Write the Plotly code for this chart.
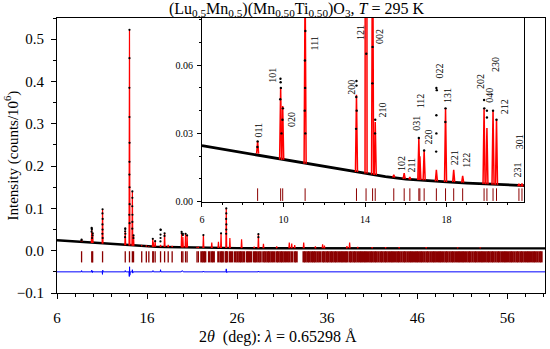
import plotly.graph_objects as go

# ---------------- data ----------------
# observed continuum (background), 2theta in deg, intensity in counts/1e6
bg_x = [6, 7, 8, 9, 10, 11, 12, 13, 14, 15, 16, 17, 18, 19, 20, 21, 22, 24, 26, 30, 35, 40, 45, 50, 55, 60.2]
bg_y = [0.0246, 0.0231, 0.0216, 0.0200, 0.0183, 0.0168, 0.0153, 0.0138, 0.0124, 0.0110, 0.0099, 0.0092,
        0.0087, 0.0082, 0.0077, 0.0071, 0.0066, 0.0062, 0.0060, 0.0058, 0.0057, 0.0057, 0.0056, 0.0056,
        0.0055, 0.0055]

# calculated peaks: position, apex, base
pk_x = [8.73, 9.86, 9.96, 11.06, 13.58, 14.05, 14.37, 14.50,
        15.41, 15.92, 16.20, 16.64, 16.69, 16.90,
        17.50, 17.95, 18.35, 18.79,
        19.84, 19.98, 20.28, 20.45,
        21.55, 21.70,
        22.26, 23.19, 23.93, 24.22, 24.80, 25.20,
        26.50, 27.90, 28.37, 28.93,
        30.40, 31.80, 32.07, 32.40,
        33.40, 34.70, 35.50, 35.70,
        38.20, 38.50, 39.40,
        41.00, 42.50, 44.00, 47.00, 50.50, 53.00]
pk_calc = [0.0265, 0.0500, 0.0420, 0.0980, 0.0470, 0.5220, 0.1400, 0.0350,
           0.0118, 0.0125, 0.0108, 0.0278, 0.0200, 0.0224,
           0.0140, 0.0410, 0.0140, 0.0113,
           0.0407, 0.0324, 0.0403, 0.0363,
           0.0079, 0.0080,
           0.0370, 0.0190, 0.0210, 0.0410, 0.1000, 0.0300,
           0.0270, 0.0095, 0.0390, 0.0160,
           0.0100, 0.0190, 0.0170, 0.0130,
           0.0190, 0.0100, 0.0150, 0.0120,
           0.0110, 0.0190, 0.0090,
           0.0085, 0.0080, 0.0085, 0.0080, 0.0075, 0.0075]
pk_base = [0.0211, 0.0185, 0.0184, 0.0167, 0.0130, 0.0124, 0.0119, 0.0117,
           0.0106, 0.0100, 0.0098, 0.0095, 0.0095, 0.0094,
           0.0090, 0.0087, 0.0086, 0.0084,
           0.0078, 0.0077, 0.0075, 0.0074,
           0.0068, 0.0067,
           0.0065, 0.0064, 0.0062, 0.0062, 0.0061, 0.0061,
           0.0060, 0.0059, 0.0059, 0.0059,
           0.0058, 0.0058, 0.0058, 0.0058,
           0.0057, 0.0057, 0.0057, 0.0057,
           0.0057, 0.0057, 0.0057,
           0.0057, 0.0057, 0.0056, 0.0056, 0.0056, 0.0056]

# observed points on the peaks
obs_x = [8.73, 8.72, 9.85, 9.86, 9.87, 9.84, 9.97, 9.95, 9.90,
         11.06, 11.05, 11.07, 11.05, 11.06, 11.04, 11.07,
         13.58, 13.58, 13.57, 13.59, 13.56,
         14.05, 14.05, 14.04, 14.05, 14.06, 14.05, 14.04, 14.06, 14.07, 14.03, 14.06,
         14.37, 14.37, 14.36, 14.38, 14.37, 14.36,
         14.50, 14.49, 16.64, 16.90,
         17.50, 17.52, 17.50, 17.50, 17.49, 17.95, 17.94,
         19.84, 19.85, 19.98, 19.98, 20.28, 20.45,
         22.26, 24.22, 24.80, 24.80, 24.79, 24.81, 24.80, 24.79, 28.37, 28.37]
obs_y = [0.0265, 0.0240, 0.0540, 0.0525, 0.0500, 0.0450, 0.0410, 0.0360, 0.0300,
         0.098, 0.088, 0.075, 0.062, 0.050, 0.040, 0.030,
         0.053, 0.051, 0.046, 0.040, 0.032,
         0.522, 0.455, 0.385, 0.316, 0.255, 0.210, 0.180, 0.150, 0.110, 0.085, 0.065,
         0.140, 0.125, 0.105, 0.085, 0.068, 0.052,
         0.036, 0.030, 0.028, 0.0225,
         0.050, 0.049, 0.038, 0.030, 0.022, 0.041, 0.035,
         0.0447, 0.041, 0.040, 0.037, 0.040, 0.036,
         0.037, 0.041, 0.100, 0.088, 0.075, 0.062, 0.050, 0.040, 0.039, 0.032]

# difference curve (obs - calc, offset)
diff_x = [6.0, 8.70, 8.73, 8.76, 9.82, 9.86, 9.92, 9.97, 10.02, 11.02, 11.05, 11.08, 11.12,
          13.54, 13.58, 13.62, 14.00, 14.03, 14.06, 14.09, 14.13, 14.34, 14.37, 14.41, 14.45,
          16.60, 16.66, 16.72, 17.47, 17.50, 17.54, 19.80, 19.88, 19.96, 20.02,
          22.22, 22.26, 22.30, 24.76, 24.80, 24.85, 24.90, 28.34, 28.37, 28.41, 60.2]
diff_y = [-0.050, -0.050, -0.047, -0.050, -0.050, -0.046, -0.052, -0.048, -0.050, -0.050, -0.056, -0.046, -0.050,
          -0.050, -0.047, -0.050, -0.050, -0.061, -0.038, -0.058, -0.050, -0.050, -0.045, -0.053, -0.050,
          -0.050, -0.047, -0.050, -0.050, -0.045, -0.050, -0.050, -0.047, -0.048, -0.050,
          -0.050, -0.048, -0.050, -0.050, -0.043, -0.052, -0.050, -0.050, -0.048, -0.050, -0.050]

# Bragg reflection positions
bragg_low = [8.73, 9.86, 9.96, 11.06, 13.58, 14.05, 14.37, 14.50, 15.41, 15.92, 16.20, 16.64, 16.69,
             16.90, 17.50, 17.95, 18.35, 18.79, 19.84, 19.98, 20.28, 20.45, 21.55, 21.70]
bragg_high = [22.05, 22.26, 22.45, 22.90, 23.19, 23.40, 23.93, 24.22, 24.40, 24.75, 24.85, 25.20, 25.45,
              25.80, 26.05, 26.30, 26.50, 26.75, 27.10, 27.30, 27.55, 27.90, 28.10, 28.37, 28.60, 28.93,
              29.15, 29.40, 29.60, 29.85, 30.10, 30.40, 30.60, 30.85, 31.05, 31.30, 31.55, 31.80, 32.07,
              32.40, 32.60, 33.40, 33.60, 33.85, 34.05, 34.30, 34.50, 34.70, 34.95, 35.20, 35.50, 35.70,
              35.95, 36.15, 36.40, 36.60, 36.85, 37.05, 37.30, 37.55, 37.75, 38.00, 38.20, 38.50, 38.70,
              38.95, 39.15, 39.40, 39.65, 39.85, 40.10, 40.30, 40.55, 40.80, 41.00, 41.25, 41.45, 41.70,
              41.95, 42.15, 42.40, 42.60, 42.85, 43.10, 43.30, 43.55, 43.80, 44.00, 44.25, 44.50, 44.70,
              44.95, 45.20, 45.40, 45.65, 45.90, 46.10, 46.35, 46.55, 46.80, 47.05, 47.25, 47.50, 47.75,
              47.95, 48.20, 48.45, 48.65, 48.90, 49.15, 49.35, 49.60, 49.85, 50.05, 50.30, 50.55, 50.75,
              51.00, 51.20, 51.45, 51.70, 51.90, 52.15, 52.40, 52.60, 52.85, 53.10, 53.30, 53.55, 53.80,
              54.00, 54.25, 54.45, 54.70, 54.95, 55.15, 55.40, 55.65, 55.85, 56.10, 56.35, 56.55, 56.80,
              57.05, 57.25, 57.50, 57.70, 57.95, 58.20, 58.40, 58.65, 58.90, 59.10, 59.35, 59.60, 59.80]
bragg_main_y = -0.0145
bragg_inset_y = 0.0031

# inset hkl labels
hkl = ['011', '101', '020', '111', '200', '121', '002', '210', '102', '211', '031', '112',
       '220', '022', '131', '221', '122', '202', '040', '230', '212', '231', '301']
hkl_x = [8.73, 9.48, 10.36, 11.54, 13.35, 13.75, 14.73, 14.86, 15.79, 16.28, 16.55, 16.71,
         17.09, 17.63, 18.07, 18.40, 18.94, 19.66, 20.12, 20.41, 20.85, 21.48, 21.59]
hkl_y = [0.0315, 0.0557, 0.0363, 0.0695, 0.0504, 0.0745, 0.0728, 0.0403, 0.0168, 0.0161, 0.0343, 0.0442,
         0.0282, 0.0572, 0.0469, 0.0194, 0.0183, 0.0528, 0.0469, 0.0603, 0.0418, 0.0139, 0.0264]

x_ticks_main = [6, 16, 26, 36, 46, 56]
y_ticks_main = [-0.1, 0.0, 0.1, 0.2, 0.3, 0.4, 0.5]
x_ticks_inset = [6, 10, 14, 18]
y_ticks_inset = [0.00, 0.03, 0.06]

# ---------------- build ----------------
FONT = "Liberation Serif"
TICKRED = '#8b0000'
HW = 0.05  # drawn half-width of a peak at its base (deg)
calc_x, calc_y = [], []
for px, ph, pb in zip(pk_x, pk_calc, pk_base):
    calc_x += [px - HW, px, px + HW, None]
    calc_y += [pb, ph, pb, None]

fig = go.Figure()


def add_pattern(xa, ya, lw_bg, lw_calc, msize, bragg, by, bsize, bwidth):
    fig.add_trace(go.Scatter(x=bg_x, y=bg_y, mode='lines', line=dict(color='black', width=lw_bg),
                             xaxis=xa, yaxis=ya, showlegend=False, hoverinfo='skip'))
    fig.add_trace(go.Scatter(x=calc_x, y=calc_y, mode='lines', line=dict(color='#ff0000', width=lw_calc),
                             connectgaps=False, xaxis=xa, yaxis=ya, showlegend=False, hoverinfo='skip'))
    fig.add_trace(go.Scatter(x=obs_x, y=obs_y, mode='markers', marker=dict(color='black', size=msize),
                             xaxis=xa, yaxis=ya, showlegend=False, hoverinfo='skip'))
    fig.add_trace(go.Scatter(x=bragg, y=[by] * len(bragg), mode='markers',
                             marker=dict(symbol='line-ns-open', size=bsize, color=TICKRED,
                                         line=dict(color=TICKRED, width=bwidth)),
                             xaxis=xa, yaxis=ya, showlegend=False, hoverinfo='skip'))


# main panel
add_pattern('x', 'y', 2.4, 1.2, 2.2, bragg_low, bragg_main_y, 8, 1.3)
fig.add_trace(go.Scatter(x=bragg_high, y=[bragg_main_y] * len(bragg_high), mode='markers',
                         marker=dict(symbol='line-ns-open', size=8, color=TICKRED,
                                     line=dict(color=TICKRED, width=2.5)),
                         showlegend=False, hoverinfo='skip'))
fig.add_trace(go.Scatter(x=diff_x, y=diff_y, mode='lines', line=dict(color='#0000ff', width=1),
                         showlegend=False, hoverinfo='skip'))
# inset panel
add_pattern('x2', 'y2', 2.8, 1.5, 2.4, bragg_low, bragg_inset_y, 9, 1)

axis_common = dict(showgrid=False, zeroline=False, showline=True, mirror=True, linecolor='black',
                   linewidth=1, ticks='outside', tickcolor='black', tickwidth=1, automargin=False)

fig.update_layout(
    width=550, height=349,
    margin=dict(l=57, r=5, t=18, b=56, autoexpand=False),
    paper_bgcolor='white', plot_bgcolor='white',
    font=dict(family=FONT, color='black', size=15),
    xaxis=dict(range=[6, 60.2], tickvals=x_ticks_main, ticklen=5,
               minor=dict(dtick=2, tick0=6, ticklen=3, ticks='outside', tickcolor='black'),
               tickfont=dict(size=15, family=FONT), ticklabelstandoff=6, **axis_common),
    yaxis=dict(range=[-0.1, 0.55], tickvals=y_ticks_main, tickformat='.1f', ticklen=5,
               minor=dict(dtick=0.05, tick0=0, ticklen=3, ticks='outside', tickcolor='black'),
               tickfont=dict(size=15, family=FONT), ticklabelstandoff=4, **axis_common),
    xaxis2=dict(domain=[0.2971, 0.957], anchor='y2', range=[6, 21.8], tickvals=x_ticks_inset, ticklen=4,
                minor=dict(dtick=1, tick0=6, ticklen=2, ticks='outside', tickcolor='black'),
                tickfont=dict(size=10, family=FONT), ticklabelstandoff=4, **axis_common),
    yaxis2=dict(domain=[0.332, 1.0], anchor='x2', range=[0, 0.0807], tickvals=y_ticks_inset,
                tickformat='.2f', ticklen=4,
                minor=dict(dtick=0.01, tick0=0, ticklen=2, ticks='outside', tickcolor='black'),
                tickfont=dict(size=10, family=FONT), ticklabelstandoff=2, **axis_common),
)

ann = []
for t, x, y in zip(hkl, hkl_x, hkl_y):
    ann.append(dict(text=t, x=x, y=y, xref='x2', yref='y2', showarrow=False, textangle=-90,
                    font=dict(size=10, family=FONT, color='black'), xanchor='center', yanchor='middle'))
ann.append(dict(text='(Lu<sub>0.5</sub>Mn<sub>0.5</sub>)(Mn<sub>0.50</sub>Ti<sub>0.50</sub>)O<sub>3</sub>, '
                     '<i>T</i> = 295 K',
                x=0.49, y=1.0, xref='paper', yref='paper', showarrow=False, yanchor='bottom',
                xanchor='center', yshift=-3, font=dict(size=16, family=FONT)))
ann.append(dict(text='2<i>θ</i>  (deg): <i>λ</i> = 0.65298 Å', x=0.4529, y=-0.16, xref='paper', yref='paper',
                showarrow=False, xanchor='center', yanchor='middle', font=dict(size=16, family=FONT)))
ann.append(dict(text='Intensity (counts/10<sup>6</sup>)', x=-0.0922, y=0.5, xref='paper', yref='paper',
                showarrow=False, textangle=-90, xanchor='center', yanchor='middle',
                font=dict(size=15, family=FONT)))
fig.update_layout(annotations=ann)

fig.write_html("out.html", config={'displayModeBar': False},
               post_script="document.body.style.margin='0';")
